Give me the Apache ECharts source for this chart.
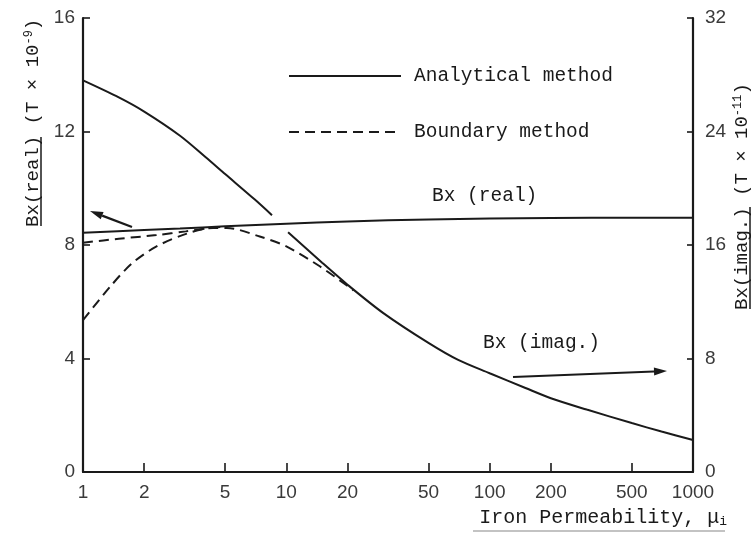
<!DOCTYPE html>
<html><head><meta charset="utf-8">
<script src="https://cdn.jsdelivr.net/npm/echarts@6/dist/echarts.min.js"></script>
<style>html,body{margin:0;padding:0;background:#fff}#c{width:754px;height:533px}</style>
</head><body><div id="c"></div>
<script>
// ---- data ----
const xTickValues = [1, 2, 5, 10, 20, 50, 100, 200, 500, 1000];
const xTickLabels = ['1', '2', '5', '10', '20', '50', '100', '200', '500', '1000'];
const leftTickLabels = ['0', '4', '8', '12', '16'];
const rightTickLabels = ['0', '8', '16', '24', '32'];

// Analytical method, Bx(real)  [left axis, T x 1e-9]
const muAnalyticalReal = [1, 2, 3, 5, 10, 20, 50, 100, 200, 500, 1000];
const analyticalReal   = [8.43, 8.53, 8.58, 8.66, 8.75, 8.83, 8.9, 8.93, 8.95, 8.96, 8.96];

// Analytical method, Bx(imag.) [right axis, T x 1e-11]  (null = pen gap where it crosses)
const muAnalyticalImag = [1, 1.5, 2, 3, 4, 5, 7, 8.5, 9.3, 10.2, 15, 20, 30, 50, 70, 100, 150, 200, 300, 500, 700, 1000];
const analyticalImag   = [27.6, 26.4, 25.4, 23.7, 22.2, 21.0, 19.2, 18.1, null, 16.9, 14.75, 13.2, 11.2, 9.1, 7.9, 6.96, 5.92, 5.2, 4.4, 3.45, 2.85, 2.25];

// Boundary method, Bx(real) [left axis]
const muBoundaryReal = [1, 1.5, 2.3, 3.2, 4.2, 5];
const boundaryReal   = [8.08, 8.22, 8.35, 8.48, 8.6, 8.65];

// Boundary method, Bx(imag.) [right axis]
const muBoundaryImag = [1, 1.36, 1.74, 2.3, 3.24, 4.36, 5.1, 7.4, 10, 14.6, 21.4];
const boundaryImag   = [10.7, 13.06, 14.7, 15.9, 16.8, 17.2, 17.2, 16.6, 15.9, 14.5, 12.8];

// ---- build ----
const zip = (xs, ys) => xs.map((x, i) => [x, ys[i] === null ? '-' : ys[i]]);
const MONO = '"Liberation Mono", "Courier New", monospace';
const SANS = '"Liberation Sans", Arial, sans-serif';
const INK = '#1a1a1a';

function arrow(x1, y1, x2, y2) {
  const dx = x2 - x1, dy = y2 - y1, L = Math.hypot(dx, dy);
  const ux = dx / L, uy = dy / L, px = -uy, py = ux;
  const hl = 13, hw = 4;
  const bx = x2 - ux * hl, by = y2 - uy * hl;
  return [
    { type: 'line', shape: { x1: x1, y1: y1, x2: bx, y2: by }, style: { stroke: INK, lineWidth: 2.2 } },
    { type: 'polygon', shape: { points: [[x2, y2], [bx + px * hw, by + py * hw], [bx - px * hw, by - py * hw]] }, style: { fill: INK } }
  ];
}

const chart = echarts.init(document.getElementById('c'), null, { renderer: 'canvas' });
const lineBase = { type: 'line', symbol: 'none', showSymbol: false, smooth: 0.3, connectNulls: false };

const option = {
  backgroundColor: '#fff',
  animation: false,
  grid: { left: 83, right: 61, top: 18, bottom: 61, containLabel: false },
  legend: {
    data: ['Analytical method', 'Boundary method'],
    orient: 'vertical', left: 288, top: 66, padding: 0,
    itemWidth: 112, itemHeight: 20, itemGap: 36,
    itemStyle: { opacity: 0, borderWidth: 0 },
    lineStyle: { width: 2, color: INK },
    textStyle: { fontFamily: MONO, fontSize: 19.5, color: INK, padding: [0, 0, 0, 8], lineHeight: 20 },
    inactiveColor: INK
  },
  xAxis: {
    type: 'log', logBase: 10, min: 1, max: 1000,
    axisLine: { show: true, onZero: false, lineStyle: { color: INK, width: 2.2 } },
    axisTick: { show: true, inside: true, length: 9, customValues: xTickValues, lineStyle: { color: INK, width: 1.6 } },
    axisLabel: {
      customValues: xTickValues, margin: 11, fontFamily: SANS, fontSize: 19, color: '#3a3a3a',
      formatter: v => { const i = xTickValues.findIndex(t => Math.abs(t - v) / t < 1e-6); return i >= 0 ? xTickLabels[i] : ''; }
    },
    splitLine: { show: false }, minorTick: { show: false }
  },
  yAxis: [
    {
      type: 'value', position: 'left', min: 0, max: 16, interval: 4,
      axisLine: { show: true, lineStyle: { color: INK, width: 2.2 } },
      axisTick: { show: true, inside: true, length: 7, lineStyle: { color: INK, width: 1.6 } },
      axisLabel: { margin: 8, fontFamily: SANS, fontSize: 19, color: '#3a3a3a', formatter: v => leftTickLabels[Math.round(v / 4)] },
      splitLine: { show: false }
    },
    {
      type: 'value', position: 'right', min: 0, max: 32, interval: 8,
      axisLine: { show: true, lineStyle: { color: INK, width: 2.2 } },
      axisTick: { show: true, inside: true, length: 6, lineStyle: { color: INK, width: 1.6 } },
      axisLabel: { margin: 12, fontFamily: SANS, fontSize: 19, color: '#3a3a3a', formatter: v => rightTickLabels[Math.round(v / 8)] },
      splitLine: { show: false }
    }
  ],
  series: [
    Object.assign({}, lineBase, { name: 'Analytical method', yAxisIndex: 1, data: zip(muAnalyticalImag, analyticalImag), lineStyle: { color: INK, width: 2 }, itemStyle: { color: INK } }),
    Object.assign({}, lineBase, { name: 'Analytical method', yAxisIndex: 0, data: zip(muAnalyticalReal, analyticalReal), lineStyle: { color: INK, width: 2 }, itemStyle: { color: INK } }),
    Object.assign({}, lineBase, { name: 'Boundary method', yAxisIndex: 0, data: zip(muBoundaryReal, boundaryReal), lineStyle: { color: INK, width: 2, type: [10, 6] }, itemStyle: { color: INK } }),
    Object.assign({}, lineBase, { name: 'Boundary method', yAxisIndex: 1, data: zip(muBoundaryImag, boundaryImag), lineStyle: { color: INK, width: 2, type: [10, 6] }, itemStyle: { color: INK } })
  ],
  graphic: [
    { type: 'text', x: 432, y: 196, style: { text: 'Bx (real)', font: '19.5px ' + MONO, fill: INK, verticalAlign: 'middle' } },
    { type: 'text', x: 483, y: 343, style: { text: 'Bx (imag.)', font: '19.5px ' + MONO, fill: INK, verticalAlign: 'middle' } },
    ...arrow(132, 227, 90, 211),
    ...arrow(513, 377, 667, 371),
    // left axis name
    { type: 'text', x: 33, y: 227, rotation: Math.PI / 2,
      style: { text: 'Bx(real) (T × 10{sup|-9})', font: '19px ' + MONO, fill: INK, align: 'left', verticalAlign: 'middle',
        rich: { sup: { fontFamily: MONO, fontSize: 12, fill: INK, verticalAlign: 'top', lineHeight: 20, padding: [0, 0, 8, 0] } } } },
    { type: 'line', shape: { x1: 41, y1: 226, x2: 41, y2: 137 }, style: { stroke: INK, lineWidth: 1.5 } },
    // right axis name
    { type: 'text', x: 742, y: 310, rotation: Math.PI / 2,
      style: { text: 'Bx(imag.) (T × 10{sup|-11})', font: '19px ' + MONO, fill: INK, align: 'left', verticalAlign: 'middle',
        rich: { sup: { fontFamily: MONO, fontSize: 12, fill: INK, verticalAlign: 'top', lineHeight: 20, padding: [0, 0, 8, 0] } } } },
    { type: 'line', shape: { x1: 750, y1: 309, x2: 750, y2: 207 }, style: { stroke: INK, lineWidth: 1.5 } },
    // x axis name
    { type: 'text', x: 727, y: 518,
      style: { text: 'Iron Permeability, μ{sub|i}', font: '20px ' + MONO, fill: INK, align: 'right', verticalAlign: 'middle',
        rich: { sub: { fontFamily: MONO, fontSize: 13, fill: INK, padding: [8, 0, 0, 0] } } } },
    { type: 'line', shape: { x1: 473, y1: 531, x2: 725, y2: 531 }, style: { stroke: '#888', lineWidth: 1.2 } }
  ]
};
chart.setOption(option);
</script>
</body></html>
